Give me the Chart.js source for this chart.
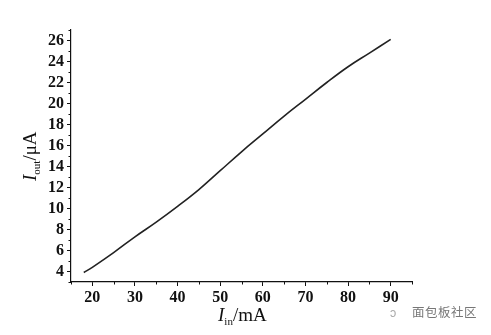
<!DOCTYPE html>
<html>
<head>
<meta charset="utf-8">
<script src="https://cdn.jsdelivr.net/npm/chart.js@4"></script>
<style>
  html, body { margin: 0; padding: 0; background: #fff; }
  #wrap { position: relative; width: 491px; height: 335px; }
  #mark {
    position: absolute; left: 390px; top: 302px;
    font-family: "Noto Sans CJK SC", sans-serif; font-size: 12.5px; color: #777;
    letter-spacing: 0.5px;
  }
  #mark span { display: inline-block; width: 16px; color: #aaa; margin-right: 6px; }
</style>
</head>
<body>
<div id="wrap">
  <canvas id="chart" width="491" height="335"></canvas>
  <div id="mark"><span>ↄ</span>面包板社区</div>
</div>
<script>
// values
const iIn = [18, 20, 25, 30, 35, 40, 45, 50, 55, 60, 65, 70, 75, 80, 85, 90];
const iOut = [3.9, 4.4, 5.8, 7.3, 8.7, 10.2, 11.8, 13.6, 15.4, 17.1, 18.8, 20.4, 22.0, 23.5, 24.8, 26.1];

const xTicks = [20, 30, 40, 50, 60, 70, 80, 90];
const yTicks = [4, 6, 8, 10, 12, 14, 16, 18, 20, 22, 24, 26];

const serif = "'Liberation Serif', serif";

// minor ticks + axis titles with subscripts
const extras = {
  id: "extras",
  afterDraw(chart) {
    const ctx = chart.ctx;
    const xs = chart.scales.x, ys = chart.scales.y;
    const area = chart.chartArea;
    ctx.save();
    ctx.strokeStyle = "#111";
    ctx.lineWidth = 1;
    ctx.beginPath();
    for (let v = 15; v <= 95; v += 5) {
      if (v % 10 === 0) continue;
      const px = Math.round(xs.getPixelForValue(v)) + 0.5;
      ctx.moveTo(px, area.bottom);
      ctx.lineTo(px, area.bottom + 2.5);
    }
    for (let v = 3; v <= 27; v += 2) {
      const py = Math.round(ys.getPixelForValue(v)) + 0.5;
      ctx.moveTo(area.left, py);
      ctx.lineTo(area.left - 2.5, py);
    }
    ctx.stroke();

    ctx.fillStyle = "#111";
    ctx.textBaseline = "alphabetic";

    // x title: I_in/mA
    let x = 218, y = 321;
    ctx.font = "italic 19px " + serif;
    ctx.fillText("I", x, y);
    x += ctx.measureText("I").width;
    ctx.font = "11px " + serif;
    ctx.fillText("in", x, y + 4);
    x += ctx.measureText("in").width;
    ctx.font = "19px " + serif;
    ctx.fillText("/mA", x, y);

    // y title: I_out/μA, rotated
    ctx.translate(36, 181);
    ctx.rotate(-Math.PI / 2);
    x = 0; y = 0;
    ctx.font = "italic 19px " + serif;
    ctx.fillText("I", x, y);
    x += ctx.measureText("I").width;
    ctx.font = "11px " + serif;
    ctx.fillText("out", x, y + 4);
    x += ctx.measureText("out").width;
    ctx.font = "19px " + serif;
    ctx.fillText("/μA", x, y);
    ctx.restore();
  }
};

new Chart(document.getElementById("chart"), {
  type: "line",
  data: {
    datasets: [{
      data: iIn.map((v, i) => ({ x: v, y: iOut[i] })),
      borderColor: "#222",
      borderWidth: 1.6,
      pointRadius: 0,
      tension: 0.4,
      fill: false
    }]
  },
  options: {
    responsive: false,
    animation: false,
    layout: { padding: { left: 0, top: 30, right: 79, bottom: 0 } },
    plugins: { legend: { display: false }, tooltip: { enabled: false } },
    scales: {
      x: {
        type: "linear",
        min: 15,
        max: 95,
        afterFit: (s) => { s.height = 53; },
        afterBuildTicks: (s) => { s.ticks = xTicks.map((v) => ({ value: v })); },
        border: { display: true, color: "#111", width: 1.2 },
        grid: { drawOnChartArea: false, tickLength: 4, color: "#111" },
        ticks: { color: "#111", padding: 2, font: { family: serif, size: 16, weight: "bold" } }
      },
      y: {
        min: 3,
        max: 27,
        afterFit: (s) => { s.width = 71; },
        afterBuildTicks: (s) => { s.ticks = yTicks.map((v) => ({ value: v })); },
        border: { display: true, color: "#111", width: 1.2 },
        grid: { drawOnChartArea: false, tickLength: 4, color: "#111" },
        ticks: { color: "#111", padding: 3, font: { family: serif, size: 16, weight: "bold" } }
      }
    }
  },
  plugins: [extras]
});
</script>
</body>
</html>
